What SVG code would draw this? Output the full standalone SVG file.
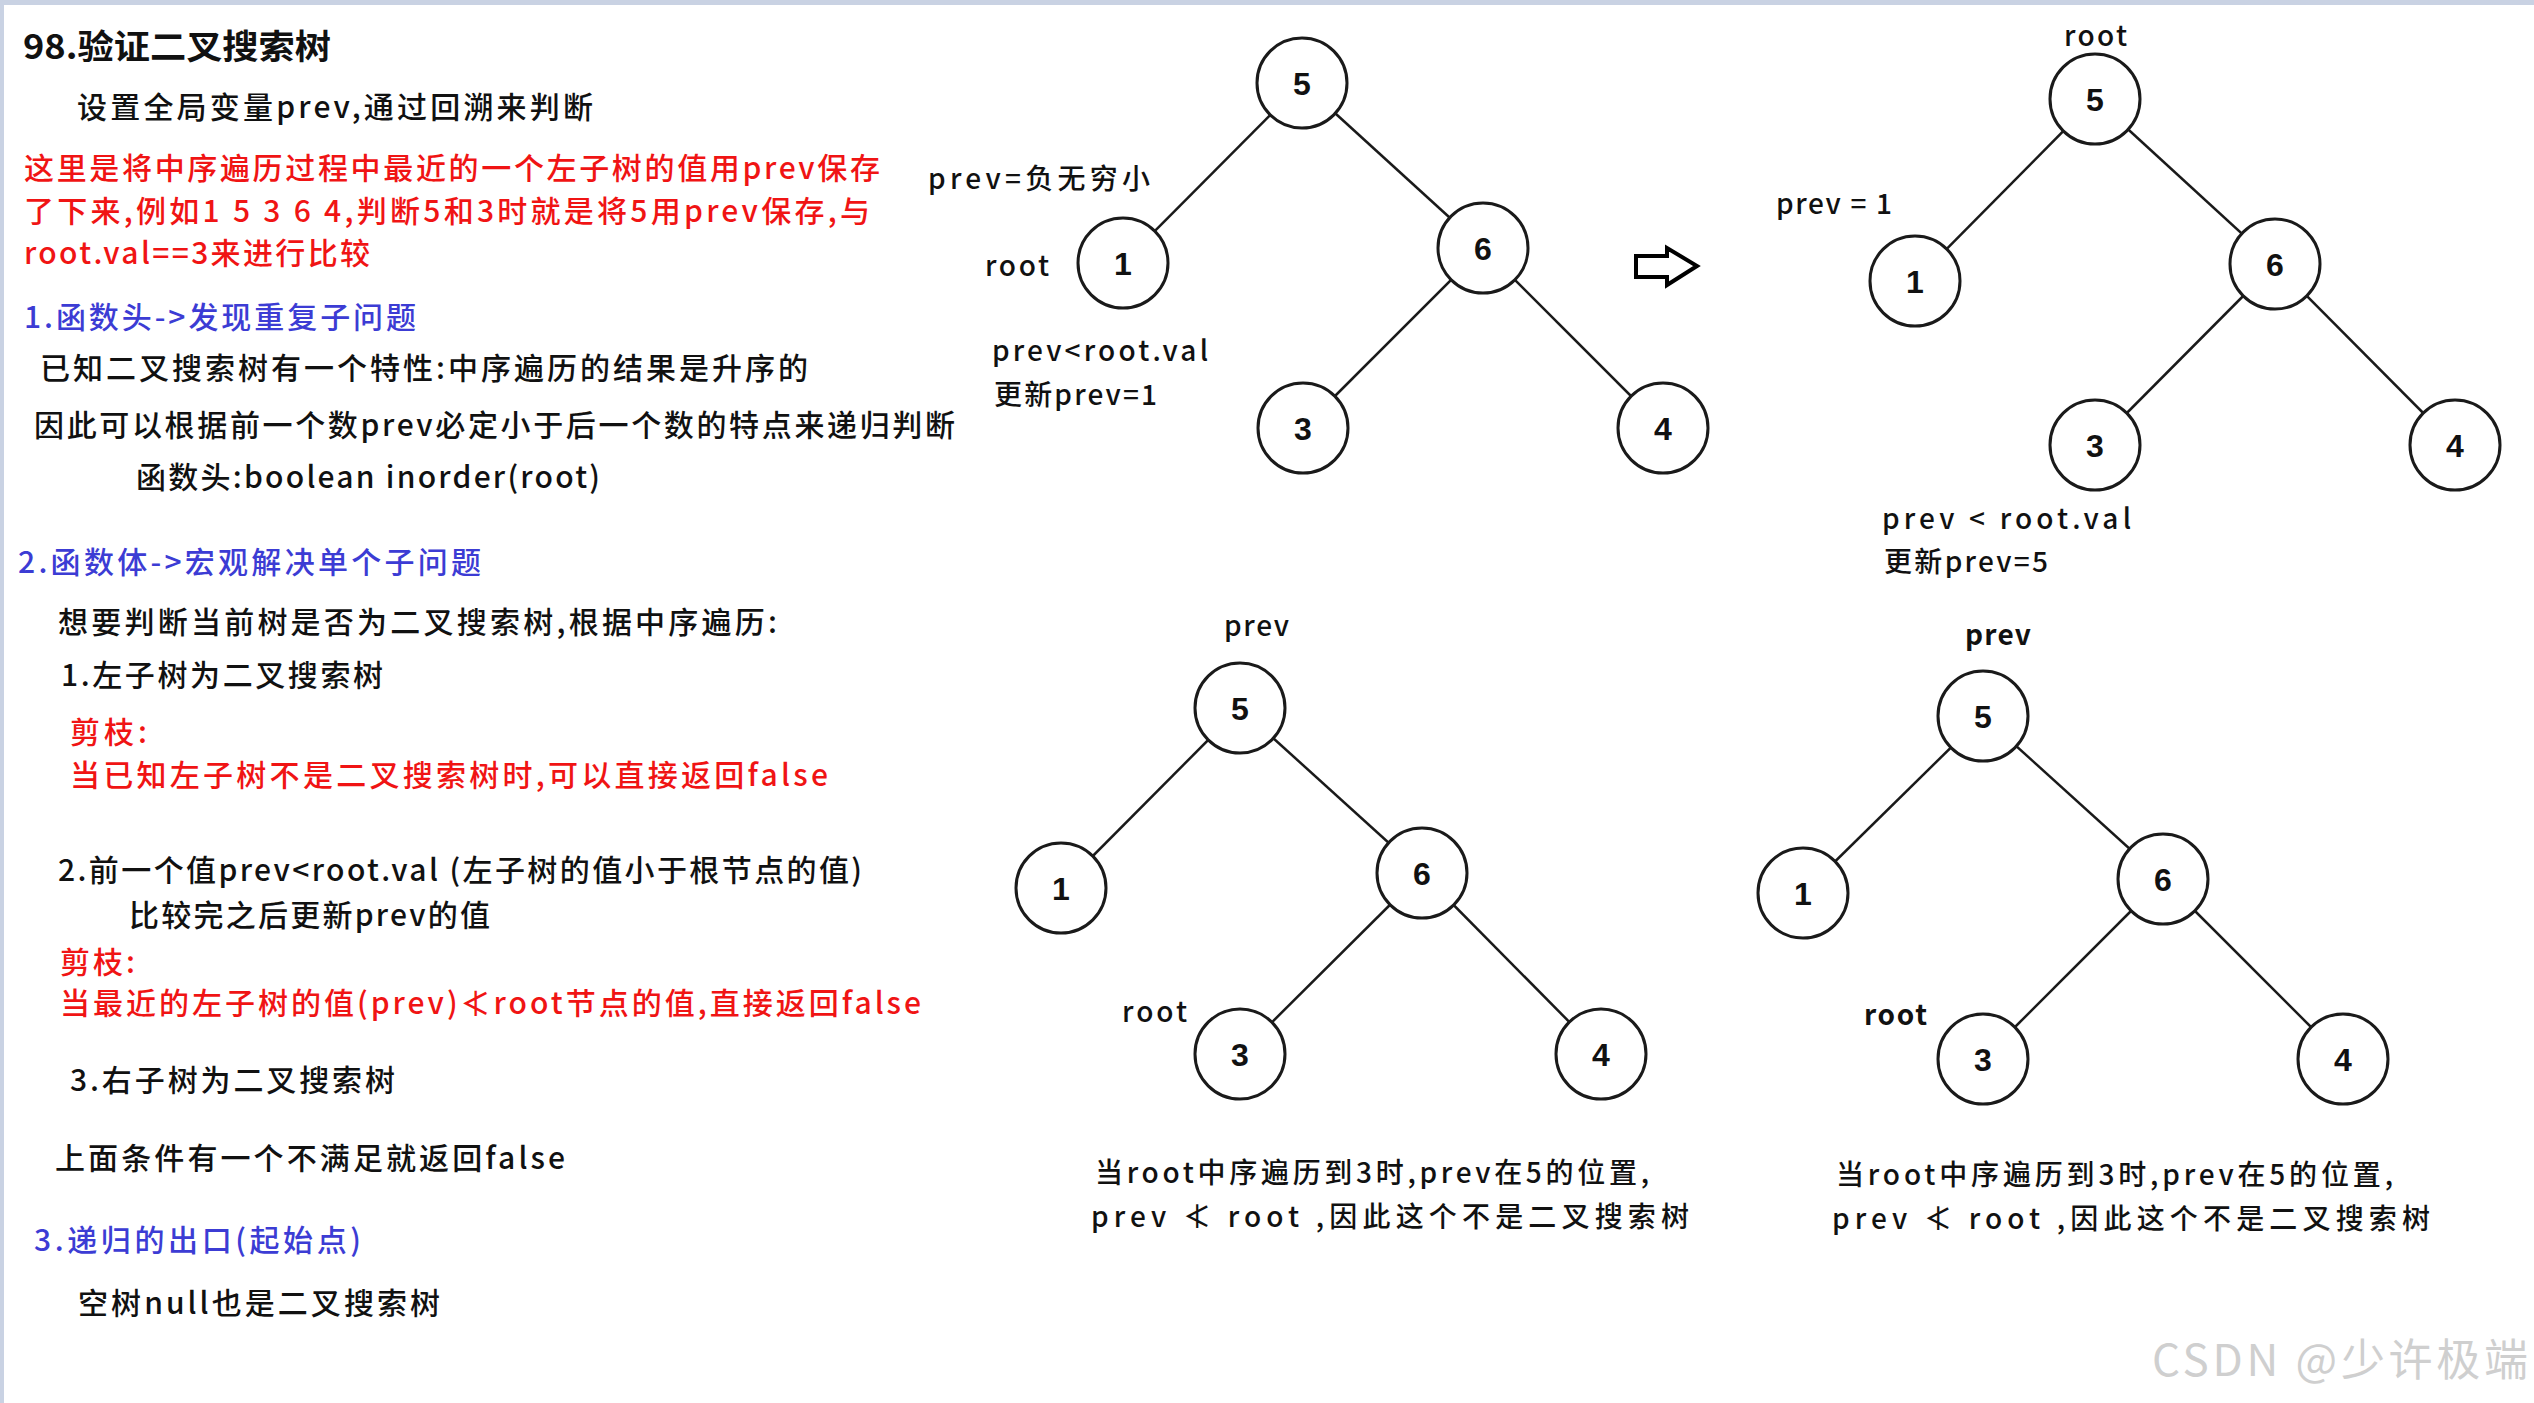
<svg xmlns="http://www.w3.org/2000/svg" width="2534" height="1403" viewBox="0 0 2534 1403">
<style>
.t{font-family:"Noto Sans CJK SC","Noto Sans",sans-serif;font-size:30px;font-weight:500;fill:#111}
.r{fill:#f01414}
.b{fill:#3c3cd4}
.lab{font-family:"Noto Sans CJK SC","Noto Sans",sans-serif;font-size:28px;font-weight:500;fill:#111}
.lb{font-weight:bold}
.num{font-family:"Liberation Sans",Arial,sans-serif;font-weight:bold;font-size:32px;fill:#111;text-anchor:middle}
.node{fill:#fff;stroke:#1a1a1a;stroke-width:3}
.edge{stroke:#1a1a1a;stroke-width:2.5}
</style>
<rect width="2534" height="1403" fill="#fff"/>
<rect x="0" y="0" width="2534" height="5" fill="#c9d2e3"/>
<rect x="0" y="0" width="4" height="1403" fill="#c9d2e3"/>

<g id="text-left">
<text class="t" x="23" y="59" style="font-size:34px;font-weight:bold" textLength="308" lengthAdjust="spacingAndGlyphs">98.验证二叉搜索树</text>
<text class="t" x="77" y="118" textLength="516">设置全局变量prev,通过回溯来判断</text>
<text class="t r" x="24" y="179" textLength="856">这里是将中序遍历过程中最近的一个左子树的值用prev保存</text>
<text class="t r" x="24" y="222" textLength="846">了下来,例如1 5 3 6 4,判断5和3时就是将5用prev保存,与</text>
<text class="t r" x="24" y="264" textLength="346">root.val==3来进行比较</text>
<text class="t b" x="24" y="328" textLength="392">1.函数头-&gt;发现重复子问题</text>
<text class="t" x="40" y="379" textLength="768">已知二叉搜索树有一个特性:中序遍历的结果是升序的</text>
<text class="t" x="34" y="436" textLength="921">因此可以根据前一个数prev必定小于后一个数的特点来递归判断</text>
<text class="t" x="136" y="488" textLength="464">函数头:boolean inorder(root)</text>
<text class="t b" x="18" y="573" textLength="463">2.函数体-&gt;宏观解决单个子问题</text>
<text class="t" x="58" y="633" textLength="719">想要判断当前树是否为二叉搜索树,根据中序遍历:</text>
<text class="t" x="61" y="686" textLength="322">1.左子树为二叉搜索树</text>
<text class="t r" x="70" y="743" textLength="77">剪枝:</text>
<text class="t r" x="70" y="786" textLength="758">当已知左子树不是二叉搜索树时,可以直接返回false</text>
<text class="t" x="58" y="881" textLength="804">2.前一个值prev&lt;root.val (左子树的值小于根节点的值)</text>
<text class="t" x="129" y="926" textLength="361">比较完之后更新prev的值</text>
<text class="t r" x="60" y="973" textLength="75">剪枝:</text>
<text class="t r" x="60" y="1014" textLength="861">当最近的左子树的值(prev)≮root节点的值,直接返回false</text>
<text class="t" x="70" y="1091" textLength="325">3.右子树为二叉搜索树</text>
<text class="t" x="55" y="1169" textLength="510">上面条件有一个不满足就返回false</text>
<text class="t b" x="34" y="1251" textLength="327">3.递归的出口(起始点)</text>
<text class="t" x="78" y="1314" textLength="362">空树null也是二叉搜索树</text>
</g>

<g id="connectors">
<line class="edge" x1="1302" y1="83" x2="1123" y2="263"/>
<line class="edge" x1="1302" y1="83" x2="1483" y2="248"/>
<line class="edge" x1="1483" y1="248" x2="1303" y2="428"/>
<line class="edge" x1="1483" y1="248" x2="1663" y2="428"/>
<line class="edge" x1="2095" y1="99" x2="1915" y2="281"/>
<line class="edge" x1="2095" y1="99" x2="2275" y2="264"/>
<line class="edge" x1="2275" y1="264" x2="2095" y2="445"/>
<line class="edge" x1="2275" y1="264" x2="2455" y2="445"/>
<line class="edge" x1="1240" y1="708" x2="1061" y2="888"/>
<line class="edge" x1="1240" y1="708" x2="1422" y2="873"/>
<line class="edge" x1="1422" y1="873" x2="1240" y2="1054"/>
<line class="edge" x1="1422" y1="873" x2="1601" y2="1054"/>
<line class="edge" x1="1983" y1="716" x2="1803" y2="893"/>
<line class="edge" x1="1983" y1="716" x2="2163" y2="879"/>
<line class="edge" x1="2163" y1="879" x2="1983" y2="1059"/>
<line class="edge" x1="2163" y1="879" x2="2343" y2="1059"/>
</g>

<g id="t1-n5"><circle class="node" cx="1302" cy="83" r="45"/><text class="num" x="1302" y="95">5</text></g>
<g id="t1-n1"><circle class="node" cx="1123" cy="263" r="45"/><text class="num" x="1123" y="275">1</text></g>
<g id="t1-n6"><circle class="node" cx="1483" cy="248" r="45"/><text class="num" x="1483" y="260">6</text></g>
<g id="t1-n3"><circle class="node" cx="1303" cy="428" r="45"/><text class="num" x="1303" y="440">3</text></g>
<g id="t1-n4"><circle class="node" cx="1663" cy="428" r="45"/><text class="num" x="1663" y="440">4</text></g>

<g id="t2-n5"><circle class="node" cx="2095" cy="99" r="45"/><text class="num" x="2095" y="111">5</text></g>
<g id="t2-n1"><circle class="node" cx="1915" cy="281" r="45"/><text class="num" x="1915" y="293">1</text></g>
<g id="t2-n6"><circle class="node" cx="2275" cy="264" r="45"/><text class="num" x="2275" y="276">6</text></g>
<g id="t2-n3"><circle class="node" cx="2095" cy="445" r="45"/><text class="num" x="2095" y="457">3</text></g>
<g id="t2-n4"><circle class="node" cx="2455" cy="445" r="45"/><text class="num" x="2455" y="457">4</text></g>

<g id="t3-n5"><circle class="node" cx="1240" cy="708" r="45"/><text class="num" x="1240" y="720">5</text></g>
<g id="t3-n1"><circle class="node" cx="1061" cy="888" r="45"/><text class="num" x="1061" y="900">1</text></g>
<g id="t3-n6"><circle class="node" cx="1422" cy="873" r="45"/><text class="num" x="1422" y="885">6</text></g>
<g id="t3-n3"><circle class="node" cx="1240" cy="1054" r="45"/><text class="num" x="1240" y="1066">3</text></g>
<g id="t3-n4"><circle class="node" cx="1601" cy="1054" r="45"/><text class="num" x="1601" y="1066">4</text></g>

<g id="t4-n5"><circle class="node" cx="1983" cy="716" r="45"/><text class="num" x="1983" y="728">5</text></g>
<g id="t4-n1"><circle class="node" cx="1803" cy="893" r="45"/><text class="num" x="1803" y="905">1</text></g>
<g id="t4-n6"><circle class="node" cx="2163" cy="879" r="45"/><text class="num" x="2163" y="891">6</text></g>
<g id="t4-n3"><circle class="node" cx="1983" cy="1059" r="45"/><text class="num" x="1983" y="1071">3</text></g>
<g id="t4-n4"><circle class="node" cx="2343" cy="1059" r="45"/><text class="num" x="2343" y="1071">4</text></g>

<g id="arrow">
<path d="M1636,256 H1667 V248 L1697,266 L1667,285 V277 H1636 Z" fill="#fff" stroke="#000" stroke-width="4" stroke-linejoin="miter"/>
</g>

<g id="tree-labels">
<text class="lab" x="928" y="189" textLength="222">prev=负无穷小</text>
<text class="lab" x="985" y="276" textLength="64">root</text>
<text class="lab" x="992" y="361" textLength="216">prev&lt;root.val</text>
<text class="lab" x="994" y="405" textLength="163">更新prev=1</text>
<text class="lab" x="2064" y="46" textLength="63">root</text>
<text class="lab" x="1776" y="214" textLength="116">prev = 1</text>
<text class="lab" x="1882" y="529" textLength="249">prev &lt; root.val</text>
<text class="lab" x="1884" y="572" textLength="164">更新prev=5</text>
<text class="lab" x="1224" y="636" textLength="65">prev</text>
<text class="lab" x="1122" y="1022" textLength="65">root</text>
<text class="lab" x="1095" y="1183" textLength="554">当root中序遍历到3时,prev在5的位置,</text>
<text class="lab" x="1091" y="1227" textLength="598">prev ≮ root ,因此这个不是二叉搜索树</text>
<text class="lab lb" x="1965" y="645" textLength="66">prev</text>
<text class="lab lb" x="1864" y="1025" textLength="63">root</text>
<text class="lab" x="1836" y="1185" textLength="557">当root中序遍历到3时,prev在5的位置,</text>
<text class="lab" x="1832" y="1229" textLength="598">prev ≮ root ,因此这个不是二叉搜索树</text>
</g>

<text x="2152" y="1376" style="font-family:'Noto Sans CJK SC','Noto Sans',sans-serif;font-size:44px;fill:#cfcfcf" textLength="376">CSDN @少许极端</text>
</svg>
